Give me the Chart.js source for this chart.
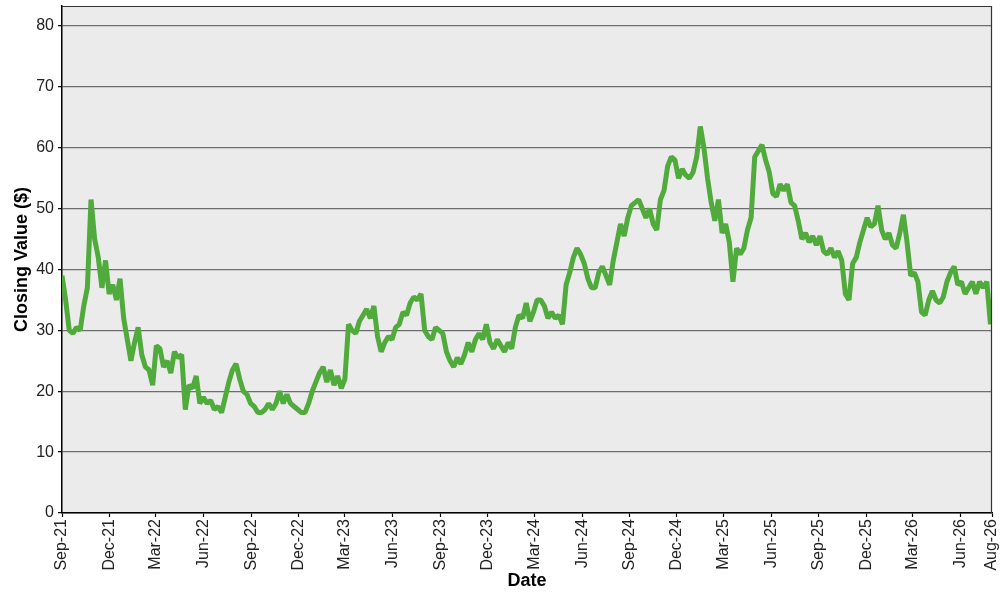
<!DOCTYPE html>
<html>
<head>
<meta charset="utf-8">
<script src="https://cdn.jsdelivr.net/npm/chart.js@4.4.1/dist/chart.umd.min.js"></script>
<style>
  html, body { margin: 0; padding: 0; background: #ffffff; }
  #wrap { width: 1000px; height: 600px; }
</style>
</head>
<body>
<div id="wrap"><canvas id="c" width="1000" height="600"></canvas></div>
<script>
// ---- Data (weekly closing values) ----
const startDate = '2021-09-01';
const closingValues = [
  39, 35, 30, 29.5, 30.5, 30, 34, 37, 51.5, 45,
  42, 37, 41.5, 36, 37.5, 35, 38.5, 32, 28.5, 25,
  28, 30.5, 26, 24, 23.5, 21, 27.5, 27, 24, 25,
  23, 26.5, 25.5, 26, 17, 21, 20.5, 22.5, 18, 19,
  18, 18.5, 17, 17.5, 16.5, 19, 21.5, 23.5, 24.5, 22,
  20, 19.5, 18, 17.5, 16.5, 16.5, 17, 18, 17, 18,
  20, 18, 19.5, 18, 17.5, 17, 16.5, 16.5, 18, 20,
  21.5, 23, 24, 21.5, 23.5, 21, 22.5, 20.5, 22, 31,
  30, 29.5, 31.5, 32.5, 33.5, 32, 34, 29, 26.5, 28,
  29, 28.5, 30.5, 31, 33, 32.5, 34.5, 35.5, 35, 36,
  30, 29, 28.5, 30.5, 30, 29.5, 26.5, 25, 24, 25.5,
  24.5, 26, 28, 26.5, 28.5, 29.5, 28.5, 31, 28, 27,
  28.5, 27.5, 26.5, 28, 27, 30.5, 32.5, 32, 34.5, 31.5,
  33, 35, 35, 34, 32, 33, 32, 32.5, 31, 37.5,
  39.5, 42, 43.5, 42.5, 41, 38.5, 37, 37, 39.5, 40.5,
  39, 37.5, 41.5, 44.5, 47.5, 45.5, 48.5, 50.5, 51, 51.5,
  50, 48.5, 50, 47.5, 46.5, 51.5, 53, 57, 58.5, 58,
  55, 56.5, 55.5, 55, 56, 58.5, 63.5, 60, 55, 51,
  48, 51.5, 46, 47.5, 44.5, 38, 43.5, 42.5, 43.5, 46.5,
  48.5, 58.5, 59.5, 60.5, 58, 56, 52.5, 52, 54, 53,
  54, 51, 50.5, 48, 45, 46, 44.5, 45.5, 44, 45.5,
  43, 42.5, 43.5, 42, 43, 41.5, 36, 35, 41, 42,
  44.5, 46.5, 48.5, 47, 47.5, 50.5, 46.5, 45, 46, 44,
  43.5, 46, 49, 44.5, 39, 39.5, 38, 33, 32.5, 35,
  36.5, 35, 34.5, 35.5, 38, 39.5, 40.5, 37.5, 38, 36,
  37, 38, 36, 38, 37, 38, 31
];
const weekDates = closingValues.map((_, i) => Date.parse(startDate) + i * 7 * 86400000);

const tickDates = [
  '2021-09-01', '2021-12-01', '2022-03-01', '2022-06-01', '2022-09-01', '2022-12-01',
  '2023-03-01', '2023-06-01', '2023-09-01', '2023-12-01', '2024-03-01', '2024-06-01',
  '2024-09-01', '2024-12-01', '2025-03-01', '2025-06-01', '2025-09-01', '2025-12-01',
  '2026-03-01', '2026-06-01', '2026-08-01'
];
const tickLabels = [
  'Sep-21', 'Dec-21', 'Mar-22', 'Jun-22', 'Sep-22', 'Dec-22',
  'Mar-23', 'Jun-23', 'Sep-23', 'Dec-23', 'Mar-24', 'Jun-24',
  'Sep-24', 'Dec-24', 'Mar-25', 'Jun-25', 'Sep-25', 'Dec-25',
  'Mar-26', 'Jun-26', 'Aug-26'
];
const yTicks = [0, 10, 20, 30, 40, 50, 60, 70, 80];
const yMax = 83.3;

// ---- Chart ----
const tickMs = tickDates.map(d => Date.parse(d));
const points = closingValues.map((v, i) => ({ x: weekDates[i], y: v }));

Chart.defaults.font.family = "'Liberation Sans', Arial, sans-serif";

const framePlugin = {
  id: 'frame',
  beforeDraw(chart) {
    const { ctx, chartArea: a } = chart;
    ctx.save();
    ctx.fillStyle = '#ebebeb';
    ctx.fillRect(a.left, a.top, a.right - a.left, a.bottom - a.top);
    ctx.restore();
  },
  afterDraw(chart) {
    const { ctx, chartArea: a } = chart;
    ctx.save();
    ctx.strokeStyle = '#333333';
    ctx.lineWidth = 1.2;
    ctx.beginPath();
    ctx.moveTo(a.left, a.top + 0.5);
    ctx.lineTo(a.right - 0.5, a.top + 0.5);
    ctx.lineTo(a.right - 0.5, a.bottom);
    ctx.stroke();
    ctx.restore();
  }
};

new Chart(document.getElementById('c'), {
  type: 'line',
  data: {
    datasets: [{
      label: 'Closing Value ($)',
      data: points,
      borderColor: '#50aa3c',
      backgroundColor: '#50aa3c',
      borderWidth: 5,
      borderJoinStyle: 'bevel',
      borderCapStyle: 'butt',
      pointRadius: 0,
      tension: 0,
      fill: false
    }]
  },
  options: {
    responsive: false,
    animation: false,
    layout: { padding: { top: 6, right: 8, left: 0, bottom: 0 } },
    plugins: {
      legend: { display: false },
      tooltip: { enabled: false }
    },
    scales: {
      x: {
        type: 'linear',
        min: tickMs[0],
        max: tickMs[tickMs.length - 1],
        afterBuildTicks(scale) {
          scale.ticks = tickMs.map(v => ({ value: v }));
        },
        afterFit(scale) {
          scale.height = 87;
          scale.paddingLeft = 0;
          scale.paddingRight = 0;
        },
        ticks: {
          autoSkip: false,
          maxRotation: 90,
          minRotation: 90,
          padding: 2,
          color: '#222222',
          font: { size: 16 },
          callback(value) {
            const idx = tickMs.indexOf(value);
            return idx >= 0 ? tickLabels[idx] : '';
          }
        },
        grid: {
          drawOnChartArea: false,
          drawTicks: true,
          tickLength: 4,
          tickColor: '#000000',
          tickWidth: 1.2
        },
        border: { display: true, color: '#000000', width: 1.5 },
        title: {
          display: true,
          text: 'Date',
          color: '#000000',
          font: { size: 18, weight: 'bold' },
          padding: { top: 4, bottom: 8 }
        }
      },
      y: {
        min: 0,
        max: yMax,
        afterBuildTicks(scale) {
          scale.ticks = yTicks.map(v => ({ value: v }));
        },
        afterFit(scale) {
          scale.width = 62;
          scale.paddingTop = 0;
          scale.paddingBottom = 0;
        },
        ticks: {
          padding: 4,
          color: '#222222',
          font: { size: 16 },
          callback(value) { return String(value); }
        },
        grid: {
          color: '#6e6e6e',
          lineWidth: 1.3,
          drawTicks: true,
          tickLength: 4,
          tickColor: '#000000',
          tickWidth: 1.2
        },
        border: { display: true, color: '#000000', width: 1.5 },
        title: {
          display: true,
          text: 'Closing Value ($)',
          color: '#000000',
          font: { size: 18, weight: 'bold' },
          padding: { top: 11, bottom: 4 }
        }
      }
    }
  },
  plugins: [framePlugin]
});
</script>
</body>
</html>
